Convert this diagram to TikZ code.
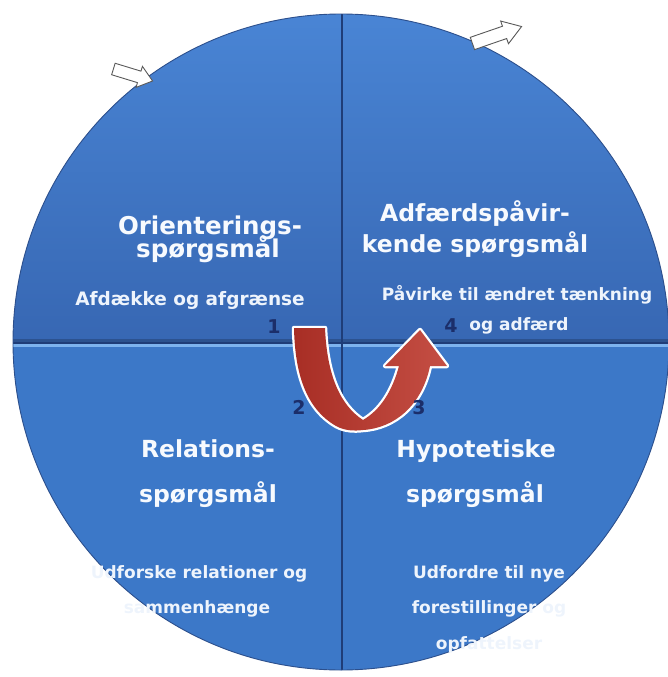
\documentclass[tikz,border=0pt]{standalone}
\usepackage{fontspec}
\setmainfont{DejaVu Sans}

\definecolor{tophi}{HTML}{4A86D6}
\definecolor{toplo}{HTML}{3767B3}
\definecolor{botfill}{HTML}{3C78C8}
\definecolor{divdark}{HTML}{1F3D78}
\definecolor{edgehi}{HTML}{7DB3EE}
\definecolor{rimline}{HTML}{2C4F8C}
\definecolor{txtwhite}{HTML}{F7FAFE}
\definecolor{subwhite}{HTML}{EEF4FC}
\definecolor{numblue}{HTML}{1B2E6A}
\definecolor{turnred}{HTML}{BE3B2F}
\definecolor{turndark}{HTML}{A82E25}

\tikzset{
  title/.style={anchor=base, text=txtwhite, font=\bfseries\fontsize{23.5}{26}\selectfont, inner sep=0pt},
  subtitle/.style={anchor=base, text=subwhite, font=\bfseries\fontsize{17}{20}\selectfont, inner sep=0pt},
  stepnum/.style={anchor=base, text=numblue, font=\bfseries\fontsize{19}{21}\selectfont, inner sep=0pt},
  blockarrow/.style={draw=black!65, fill=white, line width=0.9pt, line join=miter}
}

\begin{document}
\begin{tikzpicture}[x=1pt,y=-1pt]
\useasboundingbox (0,0) rectangle (668,677);
\coordinate (c) at (341,342);

% the four quadrants of the disc
\begin{scope}
  \clip (c) circle[radius=328pt];
  \shade[top color=tophi, bottom color=toplo] (0,0) rectangle (342,343);
  \shade[top color=tophi, bottom color=toplo] (342,0) rectangle (680,343);
  \fill[botfill] (0,343) rectangle (680,680);
  % shadow under the upper half and light edge on the lower half
  \fill[toplo!80!black] (0,339) rectangle (680,343);
  \fill[edgehi] (0,343) rectangle (680,347);
  % splits between the quadrants
  \draw[divdark, line width=1.6pt] (342,0) -- (342,680);
  \draw[divdark, line width=1.2pt] (0,343) -- (680,343);
\end{scope}
\draw[rimline, line width=0.9pt] (c) circle[radius=328pt];

% upper left: orientation questions
\node[title, font=\bfseries\fontsize{24.5}{26}\selectfont] (tl1) at (210,234) {Orienterings-};
\node[title, font=\bfseries\fontsize{24.5}{26}\selectfont] (tl2) at (208,257) {spørgsmål};
\node[subtitle, font=\bfseries\fontsize{18.5}{20}\selectfont] (tl3) at (190,305) {Afdække og afgrænse};

% upper right: behaviour-changing questions
\node[title] (tr1) at (475,221) {Adfærdspåvir-};
\node[title] (tr2) at (475,252) {kende spørgsmål};
\node[subtitle] (tr3) at (517,300) {Påvirke til ændret tænkning};
\node[subtitle] (tr4) at (519,330) {og adfærd};

% lower left: relational questions
\node[title] (bl1) at (208,457) {Relations-};
\node[title] (bl2) at (208,502) {spørgsmål};
\node[subtitle] (bl3) at (199,578) {Udforske relationer og};
\node[subtitle] (bl4) at (197,613) {sammenhænge};

% lower right: hypothetical questions
\node[title] (br1) at (476,457) {Hypotetiske};
\node[title] (br2) at (475,502) {spørgsmål};
\node[subtitle] (br3) at (489,578) {Udfordre til nye};
\node[subtitle] (br4) at (489,613) {forestillinger og};
\node[subtitle] (br5) at (489,649) {opfattelser};

% U-turn arrow through the centre: white rim, then red body
\draw[white, line width=4.5pt, line join=round]
  (294,328)
  .. controls (295,372) and (305,408) .. (336,426)
  .. controls (345,431) and (355,431) .. (363,430)
  .. controls (395,428) and (422,405) .. (430,366)
  -- (447,366) -- (420,330) -- (385,366) -- (399,366)
  .. controls (392,392) and (380,410) .. (363,420)
  .. controls (340,405) and (327,375) .. (325,328)
  -- cycle;
\shade[left color=turndark, right color=turnred!90!white]
  (294,328)
  .. controls (295,372) and (305,408) .. (336,426)
  .. controls (345,431) and (355,431) .. (363,430)
  .. controls (395,428) and (422,405) .. (430,366)
  -- (447,366) -- (420,330) -- (385,366) -- (399,366)
  .. controls (392,392) and (380,410) .. (363,420)
  .. controls (340,405) and (327,375) .. (325,328)
  -- cycle;

% step numbers
\node[stepnum] (n1) at (274,333) {1};
\node[stepnum] (n2) at (299,414) {2};
\node[stepnum] (n3) at (419,414) {3};
\node[stepnum] (n4) at (451,332) {4};

% entry arrow on the rim, upper left
\begin{scope}[shift={(133,75)}, rotate=-17]
  \draw[blockarrow] (-20.5,-6) -- (6.5,-6) -- (6.5,-11) -- (20.5,0)
    -- (6.5,11) -- (6.5,6) -- (-20.5,6) -- cycle;
\end{scope}
% exit arrow on the rim, upper right
\begin{scope}[shift={(497,35)}, rotate=19]
  \draw[blockarrow] (-26,-6.5) -- (8,-6.5) -- (8,-12) -- (26,0)
    -- (8,12) -- (8,6.5) -- (-26,6.5) -- cycle;
\end{scope}
\end{tikzpicture}
\end{document}
